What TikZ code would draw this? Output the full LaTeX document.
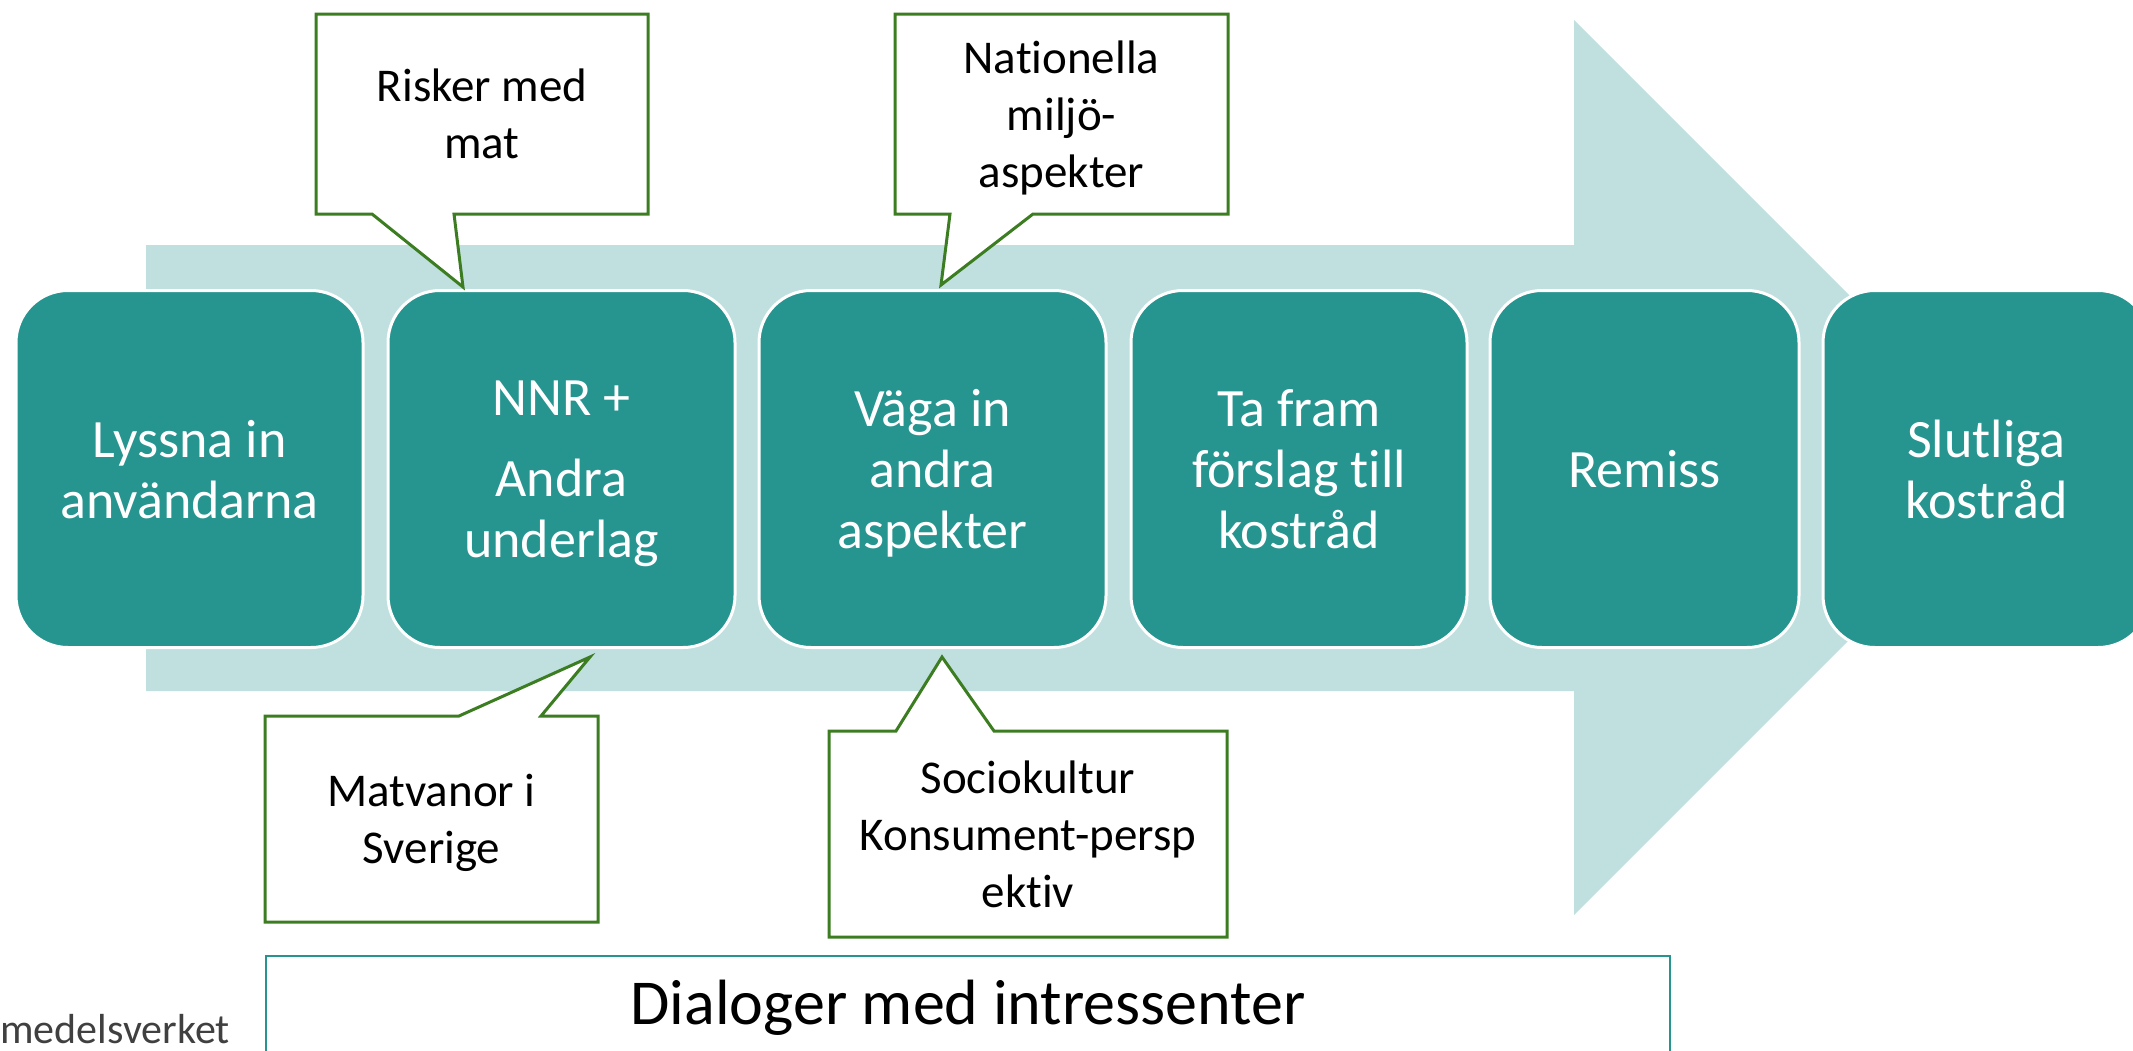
\documentclass[tikz,border=0pt]{standalone}
\usepackage{fontspec}
\setmainfont{Carlito}[Ligatures=NoCommon]
\definecolor{stegfarg}{RGB}{38,148,143}
\definecolor{pilfarg}{RGB}{192,224,223}
\definecolor{bubbelgron}{RGB}{60,125,34}
\definecolor{logogra}{RGB}{64,64,64}
\begin{document}
\begin{tikzpicture}[x=1pt, y=-1pt,
    stegbox/.style={draw=white, line width=3pt, fill=stegfarg, rounded corners=52pt,
        text=white, align=center, font=\fontsize{54}{61}\selectfont,
        minimum height=357pt, text depth=0pt},
    bubbla/.style={draw=bubbelgron, line width=3pt, fill=white, line join=miter},
    bubbeltext/.style={align=center, font=\fontsize{47}{57}\selectfont, text depth=0pt}]
    \useasboundingbox (0,0) rectangle (2133,1050);
    \clip (0,0) rectangle (2133,1050);

    % pilen i bakgrunden
    \fill[pilfarg] (146,245) -- (1574,245) -- (1574,20) -- (2021.5,467.5)
        -- (1574,915) -- (1574,691) -- (146,691) -- cycle;

    % stegen
    \node[stegbox, minimum width=347pt] (lyssna) at (189.5,469) {Lyssna in\\användarna};
    \node[stegbox, minimum width=347pt] (nnr) at (561.5,469) {NNR +\\[20pt]Andra\\underlag};
    \node[stegbox, minimum width=347pt] (vaga) at (932.5,469) {Väga in\\andra\\aspekter};
    \node[stegbox, minimum width=336pt] (forslag) at (1299,469) {Ta fram\\förslag till\\kostråd};
    \node[stegbox, minimum width=309pt] (remiss) at (1644.5,469) {Remiss};
    \node[stegbox, minimum width=327pt] (slutliga) at (1986.5,469) {Slutliga\\kostråd};

    % pratbubblor ovanför
    \draw[bubbla] (316,14) -- (648,14) -- (648,214) -- (454,214) -- (463,287)
        -- (372,214) -- (316,214) -- cycle;
    \node[bubbeltext] (risker) at (482,114) {Risker med\\mat};

    \draw[bubbla] (895,14) -- (1228,14) -- (1228,214) -- (1033,214) -- (941,285)
        -- (950,214) -- (895,214) -- cycle;
    \node[bubbeltext] (miljo) at (1061.5,114) {Nationella\\miljö-\\aspekter};

    % pratbubblor nedanför
    \draw[bubbla] (265,716) -- (459,716) -- (590,657) -- (541,716) -- (598,716)
        -- (598,922) -- (265,922) -- cycle;
    \node[bubbeltext] (matvanor) at (431.5,819) {Matvanor i\\Sverige};

    \draw[bubbla] (829,731) -- (896,731) -- (942,657) -- (994,731) -- (1227,731)
        -- (1227,937) -- (829,937) -- cycle;
    \node[bubbeltext] (socio) at (1028,834) {Sociokultur\\Konsument-persp\\ektiv};

    % dialogrutan
    \draw[stegfarg, line width=2.5pt] (266,956) rectangle (1670,1070);
    \node[anchor=base, font=\fontsize{64}{72}\selectfont] (dialog) at (968,1024) {Dialoger med intressenter};

    % logotyp (avskuren)
    \node[anchor=base east, inner sep=0pt, text=logogra, font=\fontsize{42}{50}\selectfont] (logo) at (230,1043) {medelsverket};
\end{tikzpicture}
\end{document}
